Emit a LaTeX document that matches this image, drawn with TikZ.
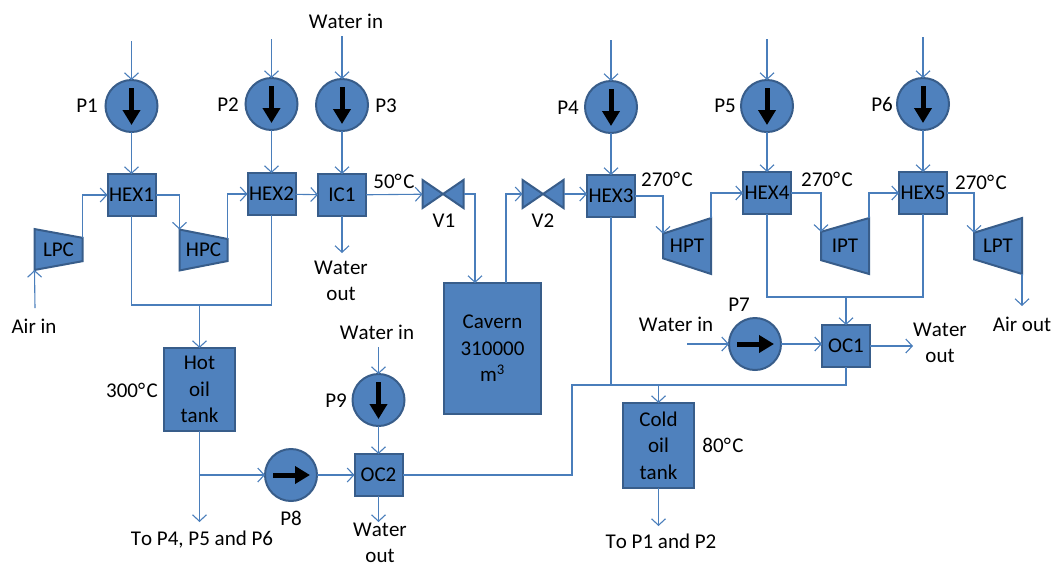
\documentclass[tikz,border=0pt]{standalone}
\usepackage{fontspec}
\setmainfont{Carlito}[Kerning=Off]
\usetikzlibrary{arrows.meta,shapes.geometric}
\definecolor{boxfill}{HTML}{4F81BD}
\definecolor{boxline}{HTML}{385D8A}
\definecolor{pipe}{HTML}{4A7EBB}
\newcommand{\degC}{°\kern1.5pt C}

\begin{document}
\begin{tikzpicture}[x=1pt, y=-1pt, line width=1.1pt, draw=pipe,
      >={Straight Barb[length=6.5pt,width=14pt,line width=1.1pt]},
      every node/.append style={inner sep=0pt, outer sep=0pt, align=center,
        font=\fontsize{21}{26.5}\selectfont},
      unit/.style={rectangle, fill=boxfill, draw=boxline, line width=2pt},
      hex/.style={unit, minimum width=48pt, minimum height=42pt},
      tank/.style={unit, minimum width=71pt},
      pump/.style={circle, fill=boxfill, draw=boxline, line width=2pt, minimum size=52pt},
      fat/.style={draw=black, line width=5pt, -{Triangle[length=15pt,width=17pt]}},
      pumpdown/.style={pump, path picture={
        \draw[fat] ([yshift=18pt]path picture bounding box.center) -- ([yshift=-19pt]path picture bounding box.center);}},
      pumpright/.style={pump, path picture={
        \draw[fat] ([xshift=-18pt]path picture bounding box.center) -- ([xshift=19pt]path picture bounding box.center);}},
      comp/.style={unit, trapezium, trapezium stretches=true, shape border rotate=270,
        trapezium left angle=80.5, trapezium right angle=80.5, minimum width=41pt, minimum height=48pt},
      turb/.style={unit, trapezium, trapezium stretches=true, shape border rotate=90,
        trapezium left angle=76, trapezium right angle=76, minimum width=56pt, minimum height=48pt},
      valve/.style={minimum width=41pt, minimum height=28pt},
      valvebody/.style={fill=boxfill, draw=boxline, line width=2pt, line join=miter}]
    \useasboundingbox (0,0) rectangle (1051,566);

    % pumps
    \node (P1) [pumpdown] at (131.5,106) {};
    \node (P2) [pumpdown] at (271.5,104) {};
    \node (P3) [pumpdown] at (342,105) {};
    \node (P4) [pumpdown] at (611,107) {};
    \node (P5) [pumpdown] at (767,106) {};
    \node (P6) [pumpdown] at (923,104) {};
    \node (P7) [pumpright] at (755,344) {};
    \node (P8) [pumpright] at (291,475) {};
    \node (P9) [pumpdown] at (378.5,400) {};

    % exchangers and coolers
    \node (HEX1) [hex] at (131.5,195) {HEX1};
    \node (HEX2) [hex] at (271.5,194) {HEX2};
    \node (IC1) [hex] at (342,195) {IC1};
    \node (HEX3) [hex] at (611,196) {HEX3};
    \node (HEX4) [hex] at (767,193) {HEX4};
    \node (HEX5) [hex] at (923,193) {HEX5};
    \node (OC1) [hex] at (846,346) {OC1};
    \node (OC2) [hex] at (378.5,475) {OC2};

    % compressors and turbines
    \node (LPC) [comp] at (58.5,249.5) {LPC};
    \node (HPC) [comp] at (203.5,250) {HPC};
    \node (HPT) [turb] at (687,246) {HPT};
    \node (IPT) [turb] at (845,246) {IPT};
    \node (LPT) [turb] at (998,246) {LPT};

    % tanks
    \node (hot) [tank, minimum height=83pt] at (199.5,389.5) {Hot\\oil\\tank};
    \node (cold) [tank, minimum height=85pt] at (658.5,445.5) {Cold\\oil\\tank};
    \node (cavern) [unit, minimum width=97pt, minimum height=131pt] at (492.5,348.5)
      {Cavern\\310000\\m\textsuperscript{3}};

    % valves
    \node (V1) [valve] at (443,194) {};
    \node (V2) [valve] at (543,194) {};
    \foreach \v in {V1,V2}
      \draw[valvebody] (\v.south west) -- (\v.north east) -- (\v.south east) -- (\v.north west) -- cycle;

    % free ends
    \coordinate (p1in) at (131.5,41);
    \coordinate (p2in) at (271.5,39);
    \coordinate (p3in) at (342,36);
    \coordinate (p4in) at (611,40);
    \coordinate (p5in) at (767,39);
    \coordinate (p6in) at (923,37);
    \coordinate (p7in) at (687,344);
    \coordinate (p9in) at (378.5,347);
    \coordinate (airin) at (35,308);
    \coordinate (airout) at (1022,306);
    \coordinate (ic1out) at (342,253);
    \coordinate (oc1out) at (913,346);
    \coordinate (oc2out) at (378.5,522);
    \coordinate (hotout) at (199.5,522);
    \coordinate (hotsplit) at (199.5,475);
    \coordinate (coldout) at (658.5,526);
    \coordinate (hotjoin) at (199.5,305);
    \coordinate (coldjoin) at (658.5,385);
    \coordinate (ocjoin) at (846,297);
    \coordinate (oc2mid) at (572,475);

    % connectors
    \foreach \p in {1,...,6}
      \draw[->] (p\p in) -- (P\p.north);
    \draw[->] (p7in) -- (P7.west);
    \draw[->] (p9in) -- (P9.north);
    \draw[->] (P1) -- (HEX1);
    \draw[->] (P2) -- (HEX2);
    \draw[->] (P3) -- (IC1);
    \draw[->] (P4) -- (HEX3);
    \draw[->] (P5) -- (HEX4);
    \draw[->] (P6) -- (HEX5);
    \draw[->] (P7) -- (P7-|OC1.west);
    \draw[->] (P8) -- (OC2);
    \draw[->] (P9) -- (OC2);
    \draw[->] (airin) -- (LPC.bottom right corner);
    \draw[->] (LPC.top left corner) |- (HEX1.west);
    \draw[->] (HEX1.east) -| (HPC.bottom left corner);
    \draw[->] (HPC.top left corner) |- (HEX2.west);
    \draw[->] (HEX2) -- (IC1);
    \draw[->] (IC1) -- (V1);
    \draw[->] (IC1) -- (ic1out);
    \draw[->] (V1.east) -| (cavern.north-|475,0);
    \draw[->] (cavern.north-|506,0) |- (V2.west);
    \draw[->] (V2) -- (V2-|HEX3.west);
    \draw[->] (HEX3.east) -| (HPT.top right corner);
    \draw[->] (HPT.bottom right corner) |- (HEX4.west);
    \draw[->] (HEX4.east) -| (IPT.top right corner);
    \draw[->] (IPT.bottom right corner) |- (HEX5.west);
    \draw[->] (HEX5.east) -| (LPT.top right corner);
    \draw[->] (LPT.bottom left corner) -- (airout);
    \draw (HEX1) |- (hotjoin) -| (HEX2);
    \draw[->] (hotjoin) -- (hot);
    \draw[->] (hot) -- (hotout);
    \draw[->] (hotsplit) -- (P8);
    \draw (HEX4) |- (ocjoin) -| (HEX5);
    \draw[->] (ocjoin) -- (OC1);
    \draw[->] (OC1) -- (oc1out);
    \draw[->] (OC2) -- (oc2out);
    \draw (OC2) -- (oc2mid) |- (coldjoin);
    \draw (OC1) |- (coldjoin);
    \draw (HEX3) |- (coldjoin);
    \draw[->] (coldjoin) -- (cold);
    \draw[->] (cold) -- (coldout);

    % labels
    \node (l1) at (87,106) {P1};
    \node (l2) at (228,105) {P2};
    \node (l3) at (386,106) {P3};
    \node (l4) at (568,108) {P4};
    \node (l5) at (725,106) {P5};
    \node (l6) at (882,104) {P6};
    \node (l7) at (739,305) {P7};
    \node (l8) at (291,518) {P8};
    \node (l9) at (336,401) {P9};
    \node (lv1) at (444,221) {V1};
    \node (lv2) at (543,221) {V2};
    \node (t1) at (394,181) {50\degC};
    \node (t2) at (667,179) {270\degC};
    \node (t3) at (827,179) {270\degC};
    \node (t4) at (981,182) {270\degC};
    \node (t5) at (132,390) {300\degC};
    \node (t6) at (723,445) {80\degC};
    \node (w1) at (346,21) {Water in};
    \node (w2) at (377,332) {Water in};
    \node (w3) at (676,324) {Water in};
    \node (w4) at (341,281) {Water\\out};
    \node (w5) at (380,543) {Water\\out};
    \node (w6) at (940,343) {Water\\out};
    \node (a1) at (34,326) {Air in};
    \node (a2) at (1022,324) {Air out};
    \node (to1) at (202,540) {To P4, P5 and P6};
    \node (to2) at (661,541) {To P1 and P2};
\end{tikzpicture}
\end{document}
